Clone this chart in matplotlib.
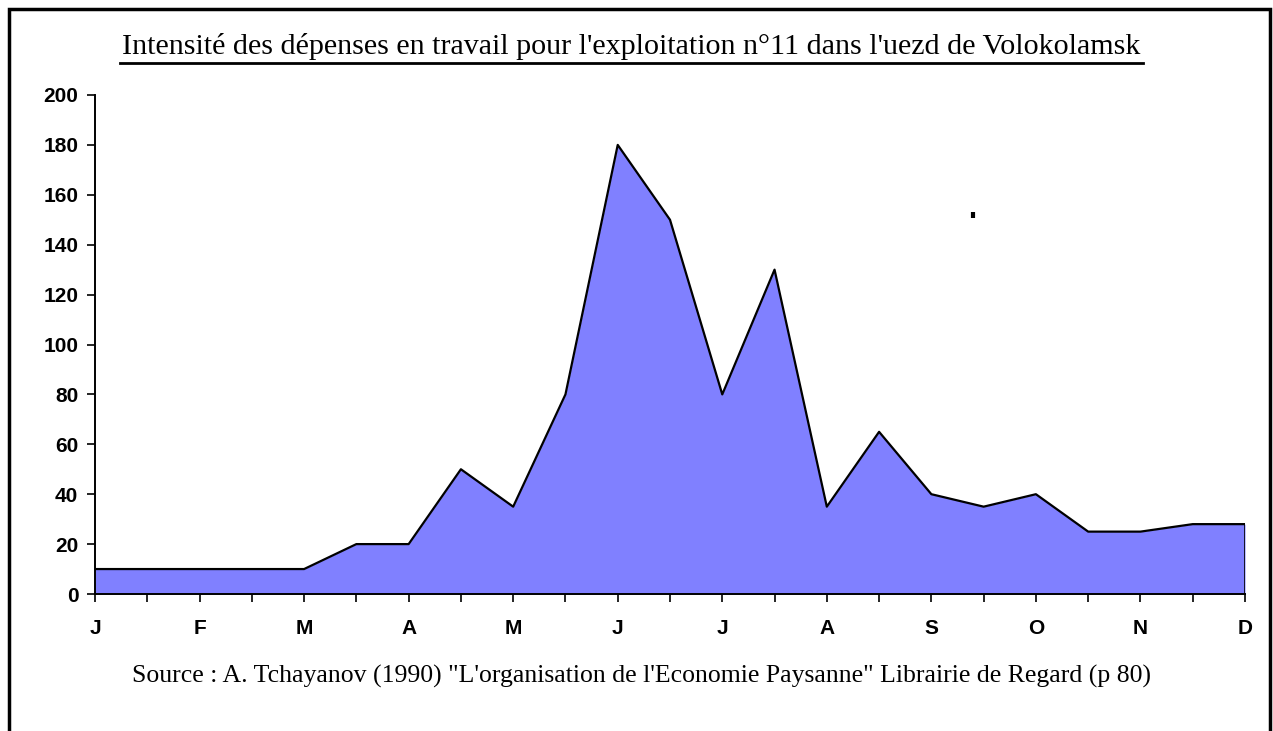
import matplotlib.pyplot as plt
from matplotlib.lines import Line2D
from matplotlib.patches import Rectangle
import numpy as np

# Half-month steps from January to December
month_labels = ["J", "F", "M", "A", "M", "J", "J", "A", "S", "O", "N", "D"]
work_intensity = [10, 10, 10, 10, 10, 20, 20, 50, 35, 80, 180, 150,
                  80, 130, 35, 65, 40, 35, 40, 25, 25, 28, 28]
# stray mark left in the original scan
stray_x, stray_y = 8.4, 152

positions = np.arange(len(work_intensity)) / 2.0

fig = plt.figure(figsize=(12.73, 7.31), dpi=100)
ax = fig.add_axes([95 / 1273, 137 / 731, 1150 / 1273, 499 / 731])

ax.fill_between(positions, work_intensity, 0, color="#8080FF", linewidth=0)
ax.plot(positions, work_intensity, color="black", linewidth=1.6)
ax.plot([positions[-1], positions[-1]], [0, work_intensity[-1]], color="black", linewidth=1.2)
ax.plot([stray_x], [stray_y], marker="|", color="black", markersize=5, markeredgewidth=3)

ax.set_xlim(0, positions[-1])
ax.set_ylim(0, 200)
ax.set_yticks(range(0, 201, 20))
ax.set_xticks(positions)
ax.set_xticklabels([month_labels[i // 2] if i % 2 == 0 else "" for i in range(len(positions))])

for lab in ax.get_xticklabels() + ax.get_yticklabels():
    lab.set_fontfamily("Liberation Sans")
    lab.set_fontweight("bold")
    lab.set_fontsize(15)

ax.tick_params(axis="x", direction="out", length=6, width=1.2, pad=12)
ax.tick_params(axis="y", direction="out", length=6, width=1.2, pad=6)
for side in ["top", "right"]:
    ax.spines[side].set_visible(False)
for side in ["left", "bottom"]:
    ax.spines[side].set_linewidth(1.4)
    ax.spines[side].set_color("black")

# Title with underline
fig.text(631 / 1273, 1 - 46 / 731,
         "Intensité des dépenses en travail pour l'exploitation n°11 dans l'uezd de Volokolamsk",
         ha="center", va="center", fontsize=21.6, family="Liberation Serif")
fig.add_artist(Line2D([120 / 1273, 1143 / 1273], [1 - 63 / 731, 1 - 63 / 731],
                      color="black", linewidth=2))

fig.text(642 / 1273, 1 - 676 / 731,
         "Source : A. Tchayanov (1990) \"L'organisation de l'Economie Paysanne\" Librairie de Regard (p 80)",
         ha="center", va="center", fontsize=18.5, family="Liberation Serif")

# outer frame
fig.add_artist(Rectangle((9 / 1273, -0.1), 1261 / 1273, 1.1 - 9 / 731,
                         fill=False, edgecolor="black", linewidth=2.5))

plt.savefig("out.png", dpi=100)
